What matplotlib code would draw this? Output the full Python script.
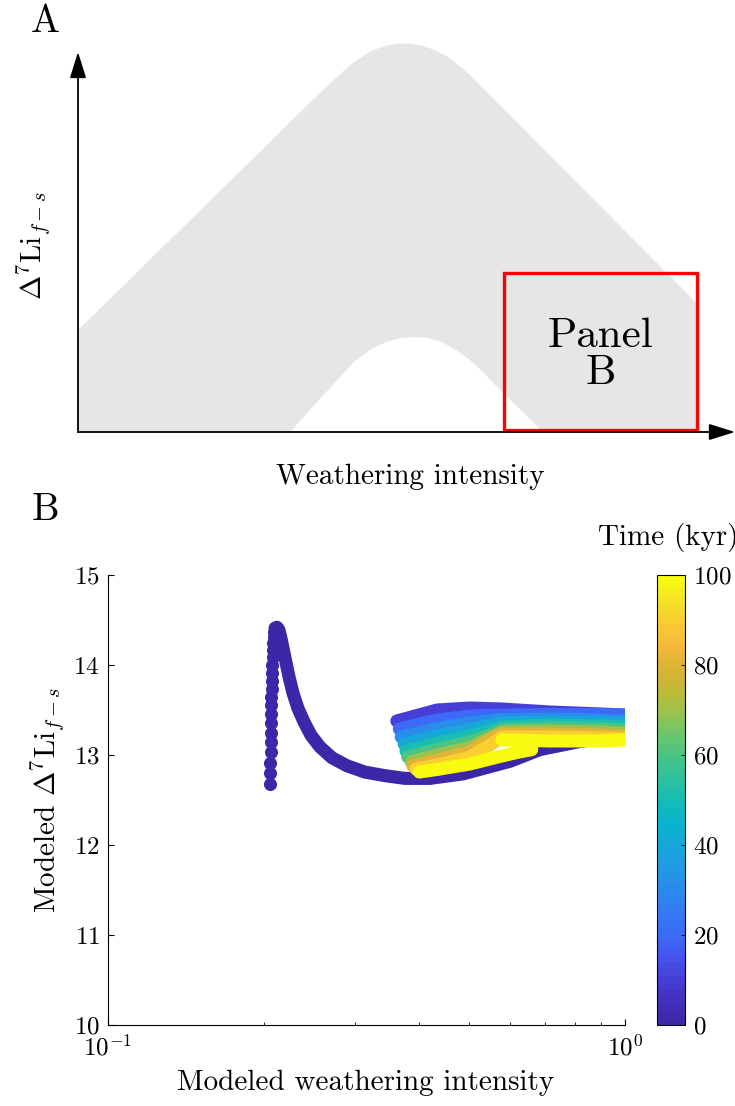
import numpy as np
import matplotlib
matplotlib.use("Agg")
import matplotlib.pyplot as plt
from matplotlib.colors import LinearSegmentedColormap, Normalize
from matplotlib.cm import ScalarMappable
from matplotlib.ticker import NullFormatter

plt.rcParams['font.family'] = 'cmr10'
plt.rcParams['mathtext.fontset'] = 'cm'
plt.rcParams['axes.formatter.use_mathtext'] = True
plt.rcParams['axes.unicode_minus'] = False

# ---------------- data ----------------
# Panel A: schematic envelope (normalised axis units)
band_upper_x = [0.0, 0.368, 0.391, 0.411, 0.429, 0.447, 0.467, 0.487, 0.505, 0.524, 0.543,
                0.563, 0.581, 0.600, 0.619, 0.942]
band_upper_y = [0.268, 0.892, 0.929, 0.961, 0.984, 1.003, 1.016, 1.022, 1.022, 1.017, 1.005,
                0.987, 0.963, 0.934, 0.900, 0.339]
band_lower_x = [0.0, 0.323, 0.338, 0.368, 0.396, 0.420, 0.444, 0.469, 0.490, 0.511, 0.533,
                0.554, 0.575, 0.597, 0.619, 0.642, 0.708, 0.942]
band_lower_y = [0.0, 0.0, 0.029, 0.087, 0.139, 0.184, 0.216, 0.237, 0.247, 0.250, 0.247,
                0.237, 0.216, 0.189, 0.153, 0.111, 0.0, 0.0]
box_x = [0.648, 0.942]
box_y = [0.005, 0.418]

# Panel B: time 0 profile, discrete dots of the rising limb
t0_col_x = [0.2057, 0.2057, 0.2057, 0.2066, 0.2066, 0.2066, 0.2066, 0.2066, 0.2066, 0.2066,
            0.2076, 0.2076, 0.2076, 0.2076, 0.2085, 0.2085, 0.2085, 0.2094, 0.2094, 0.2104]
t0_col_y = [12.68, 12.80, 12.91, 13.03, 13.14, 13.25, 13.36, 13.46, 13.56, 13.64,
            13.73, 13.82, 13.91, 14.00, 14.09, 14.17, 14.24, 14.31, 14.37, 14.41]
# time 0 profile after the peak
t0_x = [0.2104, 0.2122, 0.2141, 0.2160, 0.2180, 0.2209, 0.2239, 0.2279, 0.2330, 0.2393, 0.2469,
        0.2570, 0.2711, 0.2899, 0.3141, 0.3434, 0.3755, 0.4196, 0.4860, 0.5992, 0.6846, 0.8185, 1.0]
t0_y = [14.41, 14.42, 14.39, 14.30, 14.19, 14.03, 13.87, 13.69, 13.52, 13.37, 13.22,
        13.09, 12.97, 12.88, 12.81, 12.77, 12.74, 12.74, 12.79, 12.93, 13.06, 13.15, 13.22]

# later time slices (kyr)
t10_x = [0.362, 0.433, 0.501, 0.578, 0.716, 0.895, 1.0]
t10_y = [13.378, 13.500, 13.522, 13.511, 13.478, 13.456, 13.444]
t20_x = [0.366, 0.433, 0.501, 0.578, 0.716, 0.895, 1.0]
t20_y = [13.289, 13.389, 13.433, 13.444, 13.450, 13.450, 13.444]
t30_x = [0.369, 0.433, 0.501, 0.578, 0.716, 0.895, 1.0]
t30_y = [13.200, 13.294, 13.356, 13.394, 13.400, 13.389, 13.378]
t40_x = [0.374, 0.433, 0.501, 0.578, 0.716, 0.895, 1.0]
t40_y = [13.122, 13.211, 13.283, 13.356, 13.367, 13.356, 13.344]
t50_x = [0.377, 0.433, 0.501, 0.578, 0.716, 0.895, 1.0]
t50_y = [13.044, 13.133, 13.211, 13.311, 13.333, 13.322, 13.311]
t60_x = [0.380, 0.433, 0.501, 0.548, 0.578, 0.716, 0.895, 1.0]
t60_y = [12.978, 13.061, 13.144, 13.222, 13.283, 13.300, 13.289, 13.278]
t70_x = [0.386, 0.433, 0.501, 0.548, 0.578, 0.716, 0.895, 1.0]
t70_y = [12.922, 13.000, 13.083, 13.189, 13.256, 13.267, 13.256, 13.244]
t80_x = [0.389, 0.433, 0.501, 0.548, 0.578, 0.716, 0.895, 1.0]
t80_y = [12.878, 12.944, 13.033, 13.178, 13.233, 13.233, 13.222, 13.211]
t90_x = [0.394, 0.433, 0.501, 0.548, 0.578, 0.716, 0.895, 1.0]
t90_y = [12.844, 12.889, 12.978, 13.111, 13.200, 13.200, 13.189, 13.183]
t100_x = [0.400, 0.433, 0.501, 0.548, 0.578, 0.620, 0.660, np.nan, 0.578, 0.716, 0.895, 1.0]
t100_y = [12.811, 12.839, 12.900, 12.956, 12.989, 13.030, 13.060, np.nan, 13.167, 13.156, 13.156, 13.167]

slice_times = [10, 20, 30, 40, 50, 60, 70, 80, 90, 100]
slice_x = [t10_x, t20_x, t30_x, t40_x, t50_x, t60_x, t70_x, t80_x, t90_x, t100_x]
slice_y = [t10_y, t20_y, t30_y, t40_y, t50_y, t60_y, t70_y, t80_y, t90_y, t100_y]

cbar_ticks = [0, 20, 40, 60, 80, 100]
y_ticks = [10, 11, 12, 13, 14, 15]

# parula-like colormap
parula_hex = ['#3e26a8', '#4330c0', '#4640d8', '#4456ef', '#3b6cfa', '#337cf4', '#2a8cea',
              '#219be1', '#17a8d9', '#08b4cc', '#15bcb5', '#2ec19f', '#48c586', '#6ec66a',
              '#9bc24b', '#c2b936', '#dcb234', '#f8b93c', '#f8cc32', '#f4e426', '#f9fb0e']
parula = LinearSegmentedColormap.from_list('parula', parula_hex, N=64)
norm = Normalize(0, 100)

W, H = 735, 1106
fig = plt.figure(figsize=(W / 100, H / 100), dpi=100)

# ---------------- Panel A ----------------
axA = fig.add_axes([78 / W, 1 - 432 / H, 657 / W, 380 / H])
axA.set_xlim(0, 1)
axA.set_ylim(0, 1)
axA.axis('off')

poly_x = band_upper_x + band_lower_x[::-1]
poly_y = band_upper_y + band_lower_y[::-1]
axA.fill(poly_x, poly_y, color='#e6e6e6', lw=0, clip_on=False, zorder=1)

axA.add_patch(plt.Rectangle((box_x[0], box_y[0]), box_x[1] - box_x[0], box_y[1] - box_y[0],
                            fill=False, ec='#ff0000', lw=2.4, zorder=3, clip_on=False))
axA.text(0.796, 0.203, 'Panel\nB', ha='center', va='center', fontsize=31, linespacing=1.0, zorder=4)

arrow = dict(arrowstyle='-|>,head_length=0.8,head_width=0.25', color='k', lw=1.3,
             shrinkA=0, shrinkB=0, mutation_scale=20)
axA.annotate('', xy=(1.0, 0), xytext=(0, 0), arrowprops=arrow, annotation_clip=False, zorder=5)
axA.annotate('', xy=(0, 1.0), xytext=(0, 0), arrowprops=arrow, annotation_clip=False, zorder=5)

axA.text(0.505, -0.118, 'Weathering intensity', ha='center', va='center', fontsize=21,
         transform=axA.transAxes)
axA.text(-0.068, 0.49, r'$\Delta^7\mathrm{Li}_{f-s}$', ha='center', va='center', rotation=90,
         fontsize=21, transform=axA.transAxes)

fig.text(45 / W, 1 - 22 / H, 'A', ha='center', va='center', fontsize=28)
fig.text(45 / W, 1 - 510 / H, 'B', ha='center', va='center', fontsize=28)

# ---------------- Panel B ----------------
axB = fig.add_axes([108 / W, 1 - 1025 / H, 517 / W, 450 / H])
axB.set_xscale('log')
axB.set_xlim(0.1, 1)
axB.set_ylim(10, 15)

LW = 9.4
c0 = parula(norm(0))
axB.plot(t0_x, t0_y, '-', color=c0, lw=LW, solid_capstyle='round', solid_joinstyle='round', zorder=2)
axB.plot(t0_col_x, t0_col_y, 'o', color=c0, ms=LW, mec='none', zorder=2)

for t, xs, ys in zip(slice_times, slice_x, slice_y):
    axB.plot(xs, ys, '-', color=parula(norm(t)), lw=LW, solid_capstyle='round',
             solid_joinstyle='round', zorder=3)

for side in ['top', 'right']:
    axB.spines[side].set_visible(False)
axB.set_yticks(y_ticks)
axB.set_xticks([0.1, 1])
axB.xaxis.set_minor_formatter(NullFormatter())
axB.tick_params(axis='both', which='major', direction='in', length=4, width=0.8,
                labelsize=18, top=False, right=False)
axB.tick_params(axis='x', which='major', pad=7)
axB.tick_params(axis='y', which='major', pad=6)
axB.tick_params(axis='x', which='minor', direction='in', length=2.5, width=0.6, top=False)

axB.text(0.499, -0.129, 'Modeled weathering intensity', ha='center', va='center', fontsize=21,
         transform=axB.transAxes)
axB.text(-0.118, 0.5, r'Modeled $\Delta^7\mathrm{Li}_{f-s}$', ha='center', va='center',
         rotation=90, fontsize=21, transform=axB.transAxes)

# colorbar
cax = fig.add_axes([657 / W, 1 - 1025 / H, 28 / W, 450 / H])
sm = ScalarMappable(norm=norm, cmap=parula)
cb = fig.colorbar(sm, cax=cax, ticks=cbar_ticks)
cb.outline.set_linewidth(0.8)
cb.ax.tick_params(direction='in', length=3, width=0.6, labelsize=18, pad=6)
fig.text(668 / W, 1 - 537 / H, 'Time (kyr)', ha='center', va='center', fontsize=21)

plt.savefig('out.png', dpi=100)
